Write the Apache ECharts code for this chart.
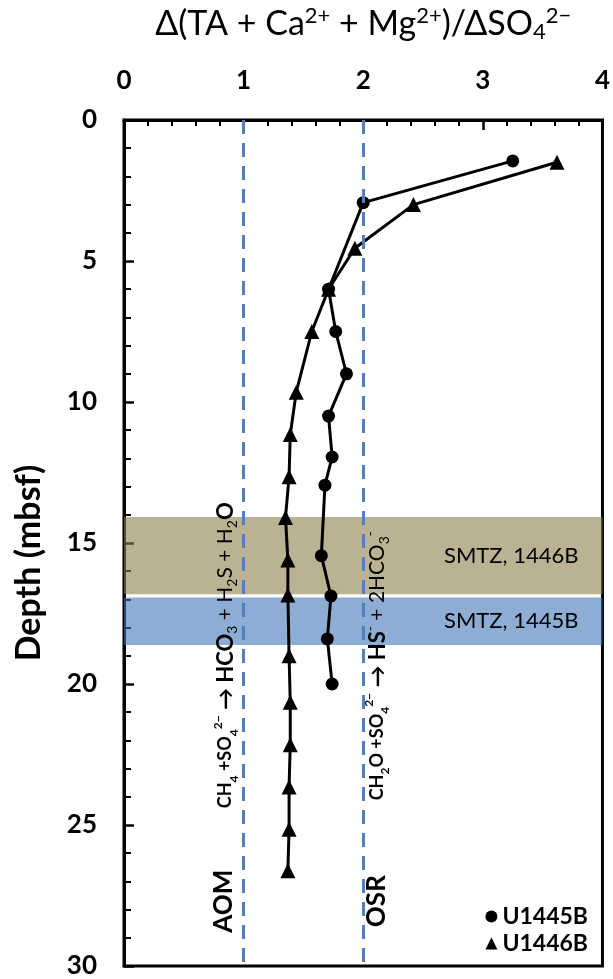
<!DOCTYPE html>
<html><head><meta charset="utf-8">
<script src="https://cdn.jsdelivr.net/npm/echarts@6/dist/echarts.min.js"></script>
<style>html,body{margin:0;padding:0;background:#fff}#c{width:613px;height:979px}</style>
</head><body><div id="c"></div>
<script>
// ---- data ----
const u1445Ratio = [3.25, 2.00, 1.71, 1.77, 1.86, 1.71, 1.74, 1.68, 1.65, 1.73, 1.70, 1.74];
const u1445Depth = [1.45, 2.93, 6.00, 7.50, 9.00, 10.50, 11.95, 12.95, 15.45, 16.88, 18.40, 20.00];
const u1446Ratio = [3.62, 2.42, 1.93, 1.71, 1.57, 1.44, 1.39, 1.38, 1.35, 1.37, 1.37, 1.38, 1.39, 1.39, 1.38, 1.38, 1.37];
const u1446Depth = [1.50, 3.00, 4.55, 6.00, 7.50, 9.65, 11.15, 12.65, 14.10, 15.60, 16.84, 19.00, 20.65, 22.15, 23.65, 25.15, 26.62];
const seriesNames = ['U1445B', 'U1446B'];
const refRatios = [1, 2];
const smtzNames = ['SMTZ, 1446B', 'SMTZ, 1445B'];
const smtzTop = [14.08, 16.93];
const smtzBottom = [16.82, 18.62];
const xTickLabels = ['0', '1', '2', '3', '4'];
const yTickLabels = ['0', '5', '10', '15', '20', '25', '30'];

const FONT = 'Lato, "Open Sans", "DejaVu Sans", sans-serif';
const bandColors = ['rgba(140,127,73,0.6)', 'rgba(67,118,183,0.6)'];

function zip(a, b) { return a.map((v, i) => [v, b[i]]); }

const richReact = {
  b: {fontFamily: FONT, fontWeight: 'bold', fontSize: 18, lineHeight: 28, color: '#000'},
  B: {fontFamily: FONT, fontWeight: 'bold', fontSize: 22, lineHeight: 28, color: '#000'},
  bs: {fontFamily: FONT, fontWeight: 'bold', fontSize: 12, lineHeight: 12, verticalAlign: 'bottom', color: '#000'},
  bu: {fontFamily: FONT, fontWeight: 'bold', fontSize: 12, lineHeight: 12, verticalAlign: 'top', color: '#000'},
  n: {fontFamily: FONT, fontWeight: 'normal', fontSize: 21, lineHeight: 28, color: '#000'},
  s: {fontFamily: FONT, fontWeight: 'normal', fontSize: 14, lineHeight: 14, verticalAlign: 'bottom', color: '#000'},
  u: {fontFamily: FONT, fontWeight: 'normal', fontSize: 14, lineHeight: 14, verticalAlign: 'top', color: '#000'},
  big: {fontFamily: FONT, fontWeight: 'bold', fontSize: 26, lineHeight: 30, color: '#000'}
};

const annotations = [
  {coord: [0.83, 27.7], text: '{big|AOM}'},
  {coord: [0.85, 18.98], text: '{b|CH}{bs|4}{b| +SO}{bs|4}{bu|2−}{B| → HCO}{s|3}{n| + H}{s|2}{n|S + H}{s|2}{B|O}'},
  {coord: [2.11, 27.7], text: '{big|OSR}'},
  {coord: [2.12, 19.35], text: '{b|CH}{bs|2}{b|O +SO}{bs|4}{bu|2−}{B| → HS}{u|-}{n| + 2HCO}{s|3}{u|-}'}
];

const chart = echarts.init(document.getElementById('c'), null, {renderer: 'canvas'});
const option = {
  animation: false,
  backgroundColor: '#fff',
  textStyle: {fontFamily: FONT},
  grid: {left: 124, right: 10, top: 114, bottom: 13, show: true, borderColor: '#000', borderWidth: 3, backgroundColor: 'transparent'},
  legend: {
    orient: 'vertical', right: 20, top: 900, itemWidth: 12, itemHeight: 12, itemGap: 4,
    data: [{name: seriesNames[0], icon: 'circle'}, {name: seriesNames[1], icon: 'triangle'}],
    textStyle: {fontFamily: FONT, fontWeight: 'bold', fontSize: 23, color: '#000'}
  },
  xAxis: {
    type: 'value', position: 'top', min: 0, max: 4, interval: 1,
    axisLine: {show: true, lineStyle: {color: '#000', width: 3}},
    axisTick: {show: true, inside: true, length: 10, lineStyle: {color: '#000', width: 2.5}},
    minorTick: {show: true, splitNumber: 5, length: 6, lineStyle: {color: '#000', width: 2}},
    splitLine: {show: false},
    axisLabel: {fontFamily: FONT, fontWeight: 'bold', fontSize: 26, color: '#000', margin: 26,
      formatter: v => xTickLabels[Math.round(v)]},
    name: 'Δ(TA + Ca{u|2+} + Mg{u|2+})/ΔSO{s|4}{u|2−}',
    nameLocation: 'middle', nameGap: 77,
    nameTextStyle: {fontFamily: FONT, fontSize: 34, color: '#000', lineHeight: 38,
      rich: {
        u: {fontFamily: FONT, fontSize: 22, lineHeight: 22, verticalAlign: 'top', color: '#000'},
        s: {fontFamily: FONT, fontSize: 22, lineHeight: 22, verticalAlign: 'bottom', color: '#000'}
      }}
  },
  yAxis: {
    type: 'value', inverse: true, min: 0, max: 30, interval: 5,
    axisLine: {show: true, lineStyle: {color: '#000', width: 3}},
    axisTick: {show: true, inside: true, length: 10, lineStyle: {color: '#000', width: 2.5}},
    minorTick: {show: true, splitNumber: 5, length: 7, lineStyle: {color: '#000', width: 2}},
    splitLine: {show: false},
    axisLabel: {fontFamily: FONT, fontWeight: 'bold', fontSize: 26, color: '#000', margin: 27,
      formatter: v => yTickLabels[Math.round(v / 5)]},
    name: 'Depth (mbsf){g|}', nameLocation: 'middle', nameGap: 78,
    nameTextStyle: {fontFamily: FONT, fontWeight: 'bold', fontSize: 34, color: '#000',
      rich: {g: {width: 40}}}
  },
  series: [
    {
      name: 'refLines', type: 'line', data: [], z: 1, silent: true,
      markLine: {
        silent: true, symbol: ['none', 'none'], label: {show: false},
        lineStyle: {color: '#4F81BD', width: 3, type: [14, 9]},
        data: refRatios.map(v => ({xAxis: v}))
      }
    },
    {
      name: seriesNames[0], type: 'line', data: zip(u1445Ratio, u1445Depth), z: 2,
      symbol: 'circle', symbolSize: 13, color: '#000',
      itemStyle: {color: '#000'}, lineStyle: {color: '#000', width: 3}
    },
    {
      name: seriesNames[1], type: 'line', data: zip(u1446Ratio, u1446Depth), z: 2,
      symbol: 'triangle', symbolSize: 15, color: '#000',
      itemStyle: {color: '#000'}, lineStyle: {color: '#000', width: 3}
    },
    {
      name: 'bands', type: 'line', data: [], z: 5, silent: true,
      markArea: {
        silent: true,
        label: {show: true, position: 'insideRight', distance: 24, fontFamily: FONT, fontSize: 22, color: '#000'},
        data: smtzNames.map((n, i) => [
          {name: n, xAxis: 0, yAxis: smtzTop[i], itemStyle: {color: bandColors[i]}},
          {xAxis: 4, yAxis: smtzBottom[i]}
        ])
      }
    },
    {
      name: 'notes', type: 'line', data: [], z: 6, silent: true,
      markPoint: {
        silent: true, symbol: 'circle', symbolSize: 0,
        data: annotations.map(a => ({
          coord: a.coord, name: '',
          label: {show: true, position: 'inside', rotate: 90, formatter: a.text, rich: richReact}
        }))
      }
    }
  ]
};
chart.setOption(option);
</script></body></html>
